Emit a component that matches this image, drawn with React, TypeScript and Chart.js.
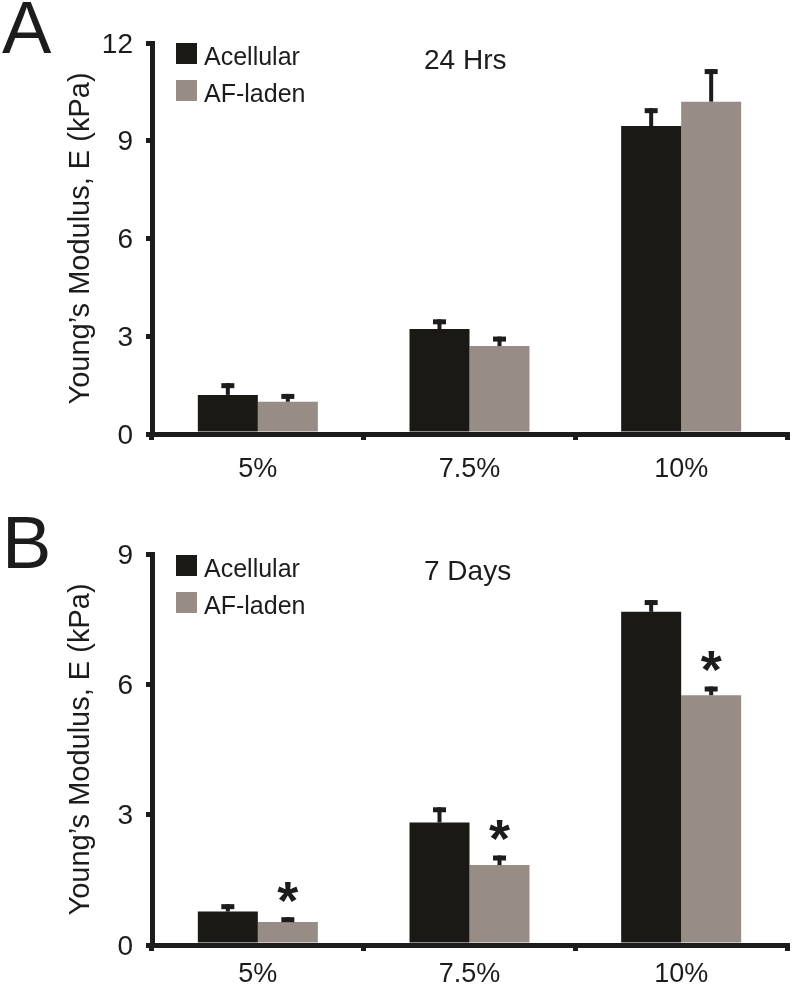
import React, { useEffect, useRef } from "react";
import { Chart, registerables } from "chart.js";

Chart.register(...registerables);

// ---------- data ----------
const categories = ["5%", "7.5%", "10%"];
const seriesNames = ["Acellular", "AF-laden"];
const seriesColors = ["#1b1916", "#978d86"];

// Panel A: 24 Hrs
const acellular24h = [1.2, 3.22, 9.45];
const acellular24hErr = [0.36, 0.3, 0.55];
const afLaden24h = [0.99, 2.7, 10.2];
const afLaden24hErr = [0.24, 0.29, 1.0];
const sig24h = [false, false, false];
const yTicks24h = [0, 3, 6, 9, 12];

// Panel B: 7 Days
const acellular7d = [0.77, 2.82, 7.67];
const acellular7dErr = [0.17, 0.35, 0.27];
const afLaden7d = [0.53, 1.84, 5.75];
const afLaden7dErr = [0.11, 0.22, 0.2];
const sig7d = [true, true, true];
const yTicks7d = [0, 3, 6, 9];

const yTitle = "Young\u2019s Modulus, E (kPa)";
const sigMark = "*";

// ---------- styles ----------
const FONT = '"Liberation Sans", Arial, Helvetica, sans-serif';
const INK = "#1c1c1c";

type PanelProps = {
  letter: string;
  title: string;
  means: number[][];
  errs: number[][];
  sig: boolean[];
  yTicks: number[];
  top: number;
  height: number;
  padTop: number;
  xAxisHeight: number;
  catPad: number;
  letterBaseline: number;
  legendTop: number;
};

function Panel(p: PanelProps) {
  const ref = useRef<HTMLCanvasElement | null>(null);

  useEffect(() => {
    const canvas = ref.current;
    if (!canvas) return;

    const decor = {
      id: "decor",
      afterDatasetsDraw(chart: any) {
        const ctx = chart.ctx;
        const ys = chart.scales.y;
        ctx.save();
        ctx.fillStyle = INK;
        // error bars (upper only)
        p.means.forEach((vals, di) => {
          const meta = chart.getDatasetMeta(di);
          meta.data.forEach((bar: any, j: number) => {
            const x = bar.x;
            const yBar = ys.getPixelForValue(vals[j]);
            const yTop = ys.getPixelForValue(vals[j] + p.errs[di][j]);
            ctx.fillRect(x - 2, yTop, 4, yBar - yTop);
            ctx.fillRect(x - 6.5, yTop, 13, 5);
          });
        });
        // significance marks
        const afMeta = chart.getDatasetMeta(1);
        const fs = 54;
        ctx.font = `bold ${fs}px ${FONT}`;
        ctx.textAlign = "center";
        ctx.textBaseline = "alphabetic";
        p.sig.forEach((s, j) => {
          if (!s) return;
          const bar = afMeta.data[j];
          const yTop = ys.getPixelForValue(p.means[1][j] + p.errs[1][j]);
          const cy = yTop - 29;
          ctx.fillText(sigMark, bar.x, cy + 0.57 * fs);
        });
        ctx.restore();
      },
      afterDraw(chart: any) {
        const ctx = chart.ctx;
        const area = chart.chartArea;
        ctx.save();
        // legend
        const sq = 21;
        ctx.font = `25px ${FONT}`;
        ctx.textAlign = "left";
        ctx.textBaseline = "alphabetic";
        chart.data.datasets.forEach((ds: any, i: number) => {
          const x = area.left + 24;
          const y = area.top + p.legendTop + i * 37;
          ctx.fillStyle = ds.backgroundColor;
          ctx.fillRect(x, y, sq, sq);
          ctx.fillStyle = INK;
          ctx.fillText(ds.label, x + sq + 7, y + sq + 1);
        });
        // panel title
        ctx.font = `28px ${FONT}`;
        ctx.fillStyle = INK;
        ctx.fillText(p.title, area.left + 272, area.top + 25.5);
        // panel letter
        ctx.font = `74px ${FONT}`;
        ctx.fillText(p.letter, 2, p.letterBaseline);
        ctx.restore();
      },
    };

    const axisLine = {
      display: true,
      drawOnChartArea: false,
      drawTicks: true,
      tickLength: 6,
      lineWidth: 5,
      color: INK,
    };

    const chart = new Chart(canvas, {
      type: "bar",
      data: {
        labels: categories,
        datasets: p.means.map((vals, i) => ({
          label: seriesNames[i],
          data: vals,
          backgroundColor: seriesColors[i],
          borderWidth: 0,
          categoryPercentage: 0.567,
          barPercentage: 1.0,
        })),
      },
      options: {
        animation: false,
        responsive: false,
        maintainAspectRatio: false,
        layout: { padding: { left: 0, right: 13, top: p.padTop, bottom: 0 } },
        plugins: {
          legend: { display: false },
          tooltip: { enabled: false },
          title: { display: false },
        },
        scales: {
          x: {
            type: "category",
            offset: true,
            grid: { ...axisLine, offset: true },
            border: { display: true, width: 5, color: INK },
            ticks: {
              font: { family: FONT, size: 27 },
              color: INK,
              padding: p.catPad,
              maxRotation: 0,
              autoSkip: false,
            },
            afterFit: (s: any) => {
              s.height = p.xAxisHeight;
            },
          },
          y: {
            min: 0,
            max: p.yTicks[p.yTicks.length - 1],
            afterBuildTicks: (s: any) => {
              s.ticks = p.yTicks.map((v) => ({ value: v }));
            },
            grid: { ...axisLine },
            border: { display: true, width: 5, color: INK },
            ticks: {
              font: { family: FONT, size: 28 },
              color: INK,
              padding: 13,
              labelOffset: 2,
            },
            title: {
              display: true,
              text: yTitle,
              font: { family: FONT, size: 29 },
              color: INK,
              padding: { top: 64, bottom: 0 },
            },
            afterFit: (s: any) => {
              s.width = 152;
            },
          },
        },
      },
      plugins: [decor],
    } as any);

    return () => chart.destroy();
  }, []);

  return (
    <canvas
      ref={ref}
      width={800}
      height={p.height}
      style={{ position: "absolute", left: 0, top: p.top, width: 800, height: p.height, display: "block" }}
    />
  );
}

export default function App() {
  return (
    <div style={{ position: "absolute", left: 0, top: 0, width: 800, height: 1005, background: "#ffffff", overflow: "hidden" }}>
      <Panel
        letter="A"
        title="24 Hrs"
        means={[acellular24h, afLaden24h]}
        errs={[acellular24hErr, afLaden24hErr]}
        sig={sig24h}
        yTicks={yTicks24h}
        top={0}
        height={500}
        padTop={43}
        xAxisHeight={66}
        catPad={13}
        letterBaseline={53}
        legendTop={0}
      />
      <Panel
        letter="B"
        title="7 Days"
        means={[acellular7d, afLaden7d]}
        errs={[acellular7dErr, afLaden7dErr]}
        sig={sig7d}
        yTicks={yTicks7d}
        top={500}
        height={505}
        padTop={54}
        xAxisHeight={60}
        catPad={7}
        letterBaseline={68}
        legendTop={1}
      />
    </div>
  );
}
